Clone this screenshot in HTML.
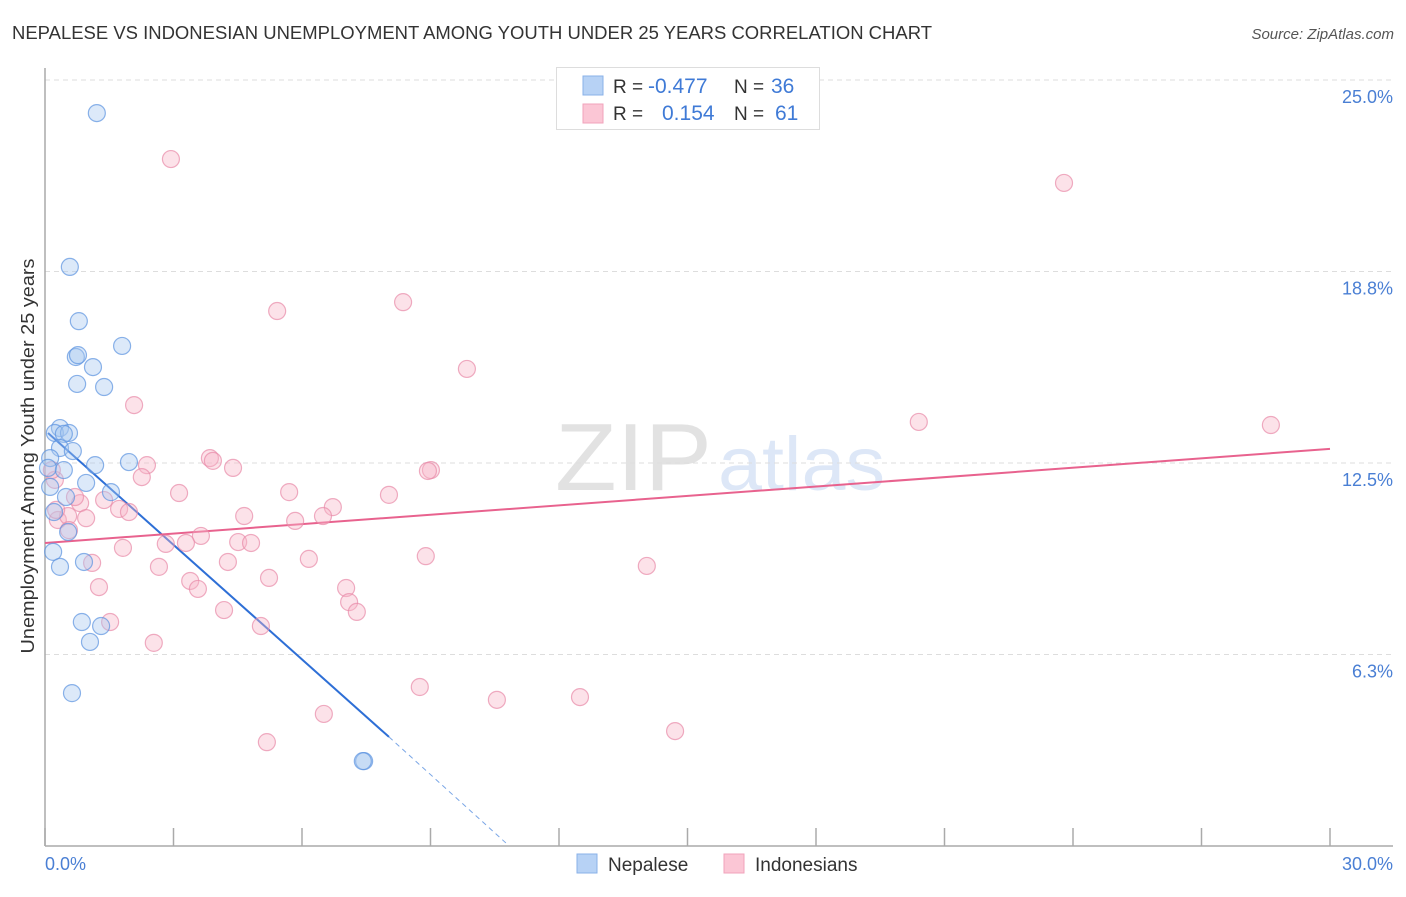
<!DOCTYPE html>
<html><head><meta charset="utf-8"><style>
body{margin:0;background:#fff;font-family:"Liberation Sans",sans-serif;}
svg text{font-family:"Liberation Sans",sans-serif;}
</style></head><body>
<svg id="chart" width="1406" height="892" viewBox="0 0 1406 892">
<text x="12" y="39" font-size="18" fill="#333" textLength="920" lengthAdjust="spacingAndGlyphs">NEPALESE VS INDONESIAN UNEMPLOYMENT AMONG YOUTH UNDER 25 YEARS CORRELATION CHART</text>
<text x="1394" y="39" font-size="15" fill="#555" font-style="italic" text-anchor="end">Source: ZipAtlas.com</text>
<g opacity="0.18">
<text x="555" y="490" font-size="96" fill="#666" font-family="Liberation Serif" textLength="157" lengthAdjust="spacingAndGlyphs">ZIP</text>
<text x="718" y="490" font-size="76" fill="#4a7fd4" textLength="167" lengthAdjust="spacingAndGlyphs">atlas</text>
</g>
<g id="grid"></g>
<g id="axes"></g>
<g id="lines"></g>
<g id="points"></g>
<text transform="translate(34,456) rotate(-90)" font-size="18" fill="#333" text-anchor="middle" textLength="395" lengthAdjust="spacingAndGlyphs">Unemployment Among Youth under 25 years</text>
<text x="45" y="870" font-size="18" fill="#4a7fd4">0.0%</text>
<text x="1393" y="870" font-size="18" fill="#4a7fd4" text-anchor="end">30.0%</text>
<g>
<rect x="556.5" y="67.5" width="263" height="62" fill="#fff" stroke="#ddd"/>
<rect x="583" y="76" width="20" height="19" fill="#b7d2f5" stroke="#8ab1e8"/>
<rect x="583" y="104" width="20" height="19" fill="#fbc6d5" stroke="#f0a3bb"/>
<text x="613" y="93" font-size="19" fill="#333">R =</text>
<text x="648" y="93" font-size="21" fill="#3f7ad6">-0.477</text>
<text x="734" y="93" font-size="19" fill="#333">N =</text>
<text x="771" y="93" font-size="21" fill="#3f7ad6">36</text>
<text x="613" y="120" font-size="19" fill="#333">R =</text>
<text x="662" y="120" font-size="21" fill="#3f7ad6">0.154</text>
<text x="734" y="120" font-size="19" fill="#333">N =</text>
<text x="775" y="120" font-size="21" fill="#3f7ad6">61</text>
</g>
<g>
<rect x="577" y="854" width="20" height="19" fill="#b7d2f5" stroke="#8ab1e8"/>
<text x="608" y="871" font-size="19" fill="#333">Nepalese</text>
<rect x="724" y="854" width="20" height="19" fill="#fbc6d5" stroke="#f0a3bb"/>
<text x="755" y="871" font-size="19" fill="#333">Indonesians</text>
</g>
</svg>
<script>
const yTicks=[6.25,12.5,18.75,25];
const yTickLabels=["6.3%","12.5%","18.8%","25.0%"];
const xTicks=[0,3,6,9,12,15,18,21,24,27,30];
const nepX=[1.21,0.58,0.79,0.72,0.77,1.80,1.12,0.75,1.38,0.35,0.23,0.56,0.44,0.35,0.65,0.12,0.07,0.44,1.17,1.96,0.96,1.54,0.49,0.12,0.21,0.54,0.19,0.35,0.91,0.86,1.31,1.05,0.63,7.45,7.42];
const nepY=[23.92,18.90,17.13,15.96,16.02,16.32,15.63,15.08,14.98,13.64,13.48,13.48,13.45,12.99,12.89,12.66,12.34,12.27,12.43,12.53,11.85,11.55,11.39,11.72,10.90,10.25,9.60,9.11,9.27,7.31,7.18,6.66,4.99,2.77,2.77];
const indX=[2.94,23.79,5.42,8.36,9.85,2.08,20.40,28.62,2.38,2.26,3.85,3.92,4.39,9.01,8.94,3.13,5.70,8.03,0.23,0.16,1.38,0.82,6.72,1.73,1.96,4.65,5.84,6.49,0.30,0.96,0.54,0.56,3.64,2.82,3.29,4.51,4.81,1.82,6.16,8.89,2.66,4.27,14.05,5.23,3.39,3.57,1.26,1.10,7.03,7.10,7.28,4.18,5.04,1.52,2.54,8.75,10.55,12.49,6.51,14.71,5.18,0.26,0.70];
const indY=[22.42,21.64,17.46,17.75,15.57,14.39,13.84,13.74,12.43,12.04,12.66,12.57,12.34,12.27,12.24,11.52,11.55,11.46,11.95,12.27,11.29,11.19,11.06,11.00,10.90,10.77,10.61,10.77,10.64,10.70,10.77,10.31,10.12,9.86,9.89,9.92,9.89,9.73,9.37,9.46,9.11,9.27,9.14,8.75,8.65,8.39,8.45,9.24,8.42,7.96,7.64,7.70,7.18,7.31,6.63,5.19,4.77,4.86,4.31,3.75,3.39,10.97,11.39];
const nepTrend=[[0.07,13.48],[8.03,3.56],[10.76,0.1]];
const indTrend=[[0,9.89],[30,12.96]];
const X0=45,X1=1330,Y0=846,Y1=80;
function sx(v){return X0+v/30*(X1-X0);}
function sy(v){return Y0-v/25*(Y0-Y1);}
const NS="http://www.w3.org/2000/svg";
function mk(tag,attrs,parent){const e=document.createElementNS(NS,tag);for(const k in attrs)e.setAttribute(k,attrs[k]);parent.appendChild(e);return e;}
const grid=document.getElementById('grid'),axes=document.getElementById('axes'),lines=document.getElementById('lines'),pts=document.getElementById('points');
yTicks.forEach((t,i)=>{
  const l=mk('line',{x1:X0,x2:1393,y1:sy(t),y2:sy(t),stroke:'#ddd','stroke-dasharray':'5,4'},grid);
  
  
  const tx=mk('text',{x:1393,y:sy(t)+23,'font-size':18,fill:'#4a7fd4','text-anchor':'end'},grid);
  tx.textContent=yTickLabels[i];
  
  
});
const ya=mk('line',{x1:X0,x2:X0,y1:68,y2:Y0,stroke:'#aaa','stroke-width':1.5},axes);


const xa=mk('line',{x1:X0,x2:1393,y1:Y0,y2:Y0,stroke:'#aaa','stroke-width':1.5},axes);


xTicks.forEach(t=>{
  const l=mk('line',{x1:sx(t),x2:sx(t),y1:828,y2:Y0,stroke:'#aaa','stroke-width':1.5},axes);
  
  
});
function drawPts(xs,ys,fill,stroke,name){
  xs.forEach((x,i)=>{
    const c=mk('circle',{cx:sx(x),cy:sy(ys[i]),r:8.5,fill:fill,'fill-opacity':0.4,stroke:stroke,'stroke-width':1.2,'stroke-opacity':0.7},pts);
    
    
  });
}
drawPts(indX,indY,'#f7b6c8','#e88aa8','indonesian-point');
drawPts(nepX,nepY,'#a8c8f0','#5b93e0','nepalese-point');
const bl=mk('line',{x1:sx(nepTrend[0][0]),y1:sy(nepTrend[0][1]),x2:sx(nepTrend[1][0]),y2:sy(nepTrend[1][1]),stroke:'#2e6fd6','stroke-width':2},lines);


const bd=mk('line',{x1:sx(nepTrend[1][0]),y1:sy(nepTrend[1][1]),x2:sx(nepTrend[2][0]),y2:sy(nepTrend[2][1]),stroke:'#7aa6e6','stroke-width':1,'stroke-dasharray':'5,4'},lines);


const pl=mk('line',{x1:sx(indTrend[0][0]),y1:sy(indTrend[0][1]),x2:sx(indTrend[1][0]),y2:sy(indTrend[1][1]),stroke:'#e8628e','stroke-width':2},lines);


</script>
</body></html>
